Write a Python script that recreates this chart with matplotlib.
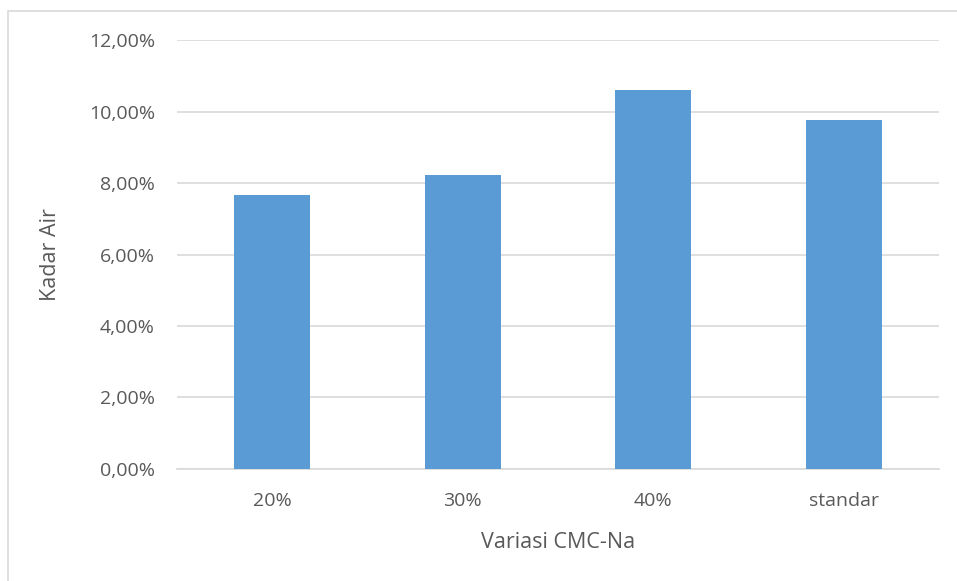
import matplotlib.pyplot as plt
from matplotlib.patches import Rectangle
from matplotlib.ticker import FuncFormatter, MultipleLocator

plt.rcParams['font.family'] = ['Open Sans', 'DejaVu Sans']

categories = ['20%', '30%', '40%', 'standar']
kadar_air = [7.67, 8.22, 10.60, 9.77]

text_col = '#595959'
grid_col = '#d9d9d9'

fig = plt.figure(figsize=(9.57, 5.81), dpi=100)
ax = fig.add_axes([0.185, 0.1936, 0.796, 0.7367])

ax.bar(range(len(categories)), kadar_air, width=0.4, color='#5b9bd5', zorder=3)

ax.set_ylim(0, 12)
ax.set_xlim(-0.5, len(categories) - 0.5)
ax.yaxis.set_major_locator(MultipleLocator(2))
ax.yaxis.set_major_formatter(FuncFormatter(lambda v, p: f"{v:.2f}".replace('.', ',') + '%'))
ax.set_xticks(range(len(categories)))
ax.set_xticklabels(categories)
ax.grid(axis='y', color=grid_col, linewidth=1.2, zorder=0)
for s in ['top', 'right', 'left']:
    ax.spines[s].set_visible(False)
ax.spines['bottom'].set_color(grid_col)
ax.spines['bottom'].set_linewidth(1.2)
ax.tick_params(length=0, labelsize=14, colors=text_col)
ax.tick_params(axis='y', pad=16)
ax.tick_params(axis='x', pad=17)

ax.set_xlabel('Variasi CMC-Na', fontsize=15.5, color=text_col, labelpad=16)
ax.set_ylabel('Kadar Air', fontsize=15.5, color=text_col, labelpad=20)

# chart frame, cropped at right and bottom
fig.patches.append(Rectangle((8 / 957, -0.1), 1.1, 1 - 11 / 581 + 0.1,
                             transform=fig.transFigure, fill=False,
                             edgecolor=grid_col, linewidth=1.2))

fig.savefig('out.png', dpi=100)
